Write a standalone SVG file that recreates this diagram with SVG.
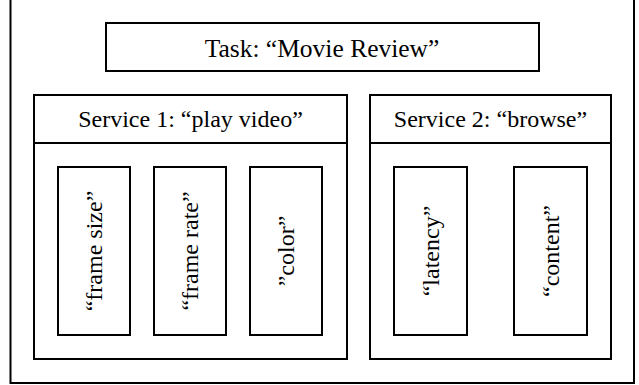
<svg xmlns="http://www.w3.org/2000/svg" width="639" height="385" viewBox="0 0 639 385">
<style>
rect{fill:#fff;stroke:#000;stroke-width:2}
line{stroke:#000;stroke-width:2}
text{font-family:"Liberation Serif","Times New Roman",serif;font-size:24px;fill:#000;text-anchor:middle}
</style>
<g id="outer"><rect x="10.5" y="-5" width="623.5" height="388"/></g>
<g id="task"><rect x="106" y="23" width="433" height="48"/><text x="322" y="57" style="font-size:25.5px">Task: “Movie Review”</text></g>
<g id="service1"><rect x="34" y="95" width="313" height="264"/><line x1="34" y1="143" x2="347" y2="143"/><text x="190.5" y="127">Service 1: “play video”</text></g>
<g id="service2"><rect x="370" y="95" width="241" height="264"/><line x1="370" y1="143" x2="611" y2="143"/><text x="490.5" y="127">Service 2: “browse”</text></g>
<g id="frame-size"><rect x="58" y="167" width="72" height="168"/><text transform="translate(94,251) rotate(-90)" y="8">“frame size”</text></g>
<g id="frame-rate"><rect x="154" y="167" width="72" height="168"/><text transform="translate(190,251) rotate(-90)" y="8">“frame rate”</text></g>
<g id="color"><rect x="250" y="167" width="72" height="168"/><text transform="translate(286,251) rotate(-90)" y="8">”color”</text></g>
<g id="latency"><rect x="394" y="167" width="73" height="168"/><text transform="translate(430.5,251) rotate(-90)" y="8">“latency”</text></g>
<g id="content"><rect x="514" y="167" width="73" height="168"/><text transform="translate(550.5,251) rotate(-90)" y="8">“content”</text></g>
<g id="connectors"/>
</svg>
